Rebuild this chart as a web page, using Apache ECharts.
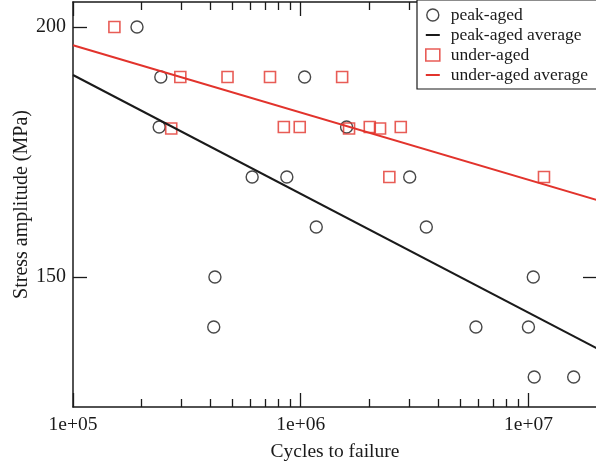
<!DOCTYPE html>
<html>
<head>
<meta charset="utf-8">
<title>Stress amplitude vs cycles to failure</title>
<script src="https://cdn.jsdelivr.net/npm/echarts@6/dist/echarts.min.js"></script>
<style>
    html, body { margin: 0; padding: 0; background: #fff; }
    #chart { width: 596px; height: 462px; }
</style>
</head>
<body>
<div id="chart"></div>
<script>
// cycles to failure / stress amplitude
var peakCycles = [1.91e5, 2.43e5, 2.39e5, 6.12e5, 8.69e5, 1.04e6, 1.59e6, 3.01e6, 1.17e6,
    3.56e6, 4.2e5, 4.15e5, 1.05e7, 5.88e6, 1.0e7, 1.06e7, 1.58e7];
var peakStress = [200, 190, 180, 170, 170, 190, 180, 170, 160,
    160, 150, 140, 150, 140, 140, 130, 130];

var underCycles = [1.52e5, 2.96e5, 4.77e5, 7.33e5, 1.52e6, 2.7e5, 8.43e5, 9.9e5, 1.63e6,
    2.01e6, 2.23e6, 2.75e6, 2.45e6, 1.17e7];
var underStress = [200, 190, 190, 190, 190, 179.7, 180, 180, 179.7,
    180, 179.7, 180, 170, 170];

// fitted averages, evaluated at the ends of the x range
var fitCycles = [1e5, 2e7];
var peakFit = [190.4, 135.7];
var underFit = [196.35, 165.4];

var majorTicks = [1e5, 1e6, 1e7];
var minorTicks = [2e5, 3e5, 4e5, 5e5, 6e5, 7e5, 8e5, 9e5,
    2e6, 3e6, 4e6, 5e6, 6e6, 7e6, 8e6, 9e6];
var yTicks = [150, 200];

var FONT = 'Liberation Serif';
var INK = '#1a1a1a';
var RED = '#e2332c';
var LINE_ICON = 'path://M0,0L14,0L14,2L0,2Z';

function pairs(xs, ys) {
    var out = [];
    for (var i = 0; i < xs.length; i++) {
        out.push([xs[i], ys[i]]);
    }
    return out;
}

function sciLabel(v) {
    var e = Math.round(Math.log(v) / Math.LN10);
    return '1e+' + (e < 10 ? '0' + e : e);
}

function xAxisDef(position, ticks, len, main) {
    return {
        type: 'log',
        logBase: 10,
        position: position,
        min: 1e5,
        max: 2e7,
        name: main ? 'Cycles to failure' : '',
        nameLocation: 'middle',
        nameGap: 35,
        nameTextStyle: { fontFamily: FONT, fontSize: 19.5, color: INK },
        axisLine: { show: main !== null, onZero: false, lineStyle: { color: INK, width: 1.5 } },
        axisTick: {
            show: true, inside: true, length: len, customValues: ticks,
            lineStyle: { color: INK, width: 1.3 }
        },
        axisLabel: {
            show: !!main, customValues: majorTicks, margin: 8,
            fontFamily: FONT, fontSize: 19.5, color: INK,
            formatter: sciLabel
        },
        splitLine: { show: false }
    };
}

function yAxisDef(position, main) {
    return {
        type: 'value',
        position: position,
        min: 124,
        max: 205,
        name: main ? 'Stress amplitude (MPa)' : '',
        nameLocation: 'middle',
        nameGap: 41,
        nameRotate: 90,
        nameMoveOverlap: false,
        nameTextStyle: { fontFamily: FONT, fontSize: 20, color: INK },
        axisLine: { show: true, onZero: false, lineStyle: { color: INK, width: 1.5 } },
        axisTick: {
            show: true, inside: true, length: 14, customValues: yTicks,
            lineStyle: { color: INK, width: 1.3 }
        },
        axisLabel: {
            show: main, customValues: yTicks, margin: 7,
            fontFamily: FONT, fontSize: 20, color: INK
        },
        splitLine: { show: false }
    };
}

var chart = echarts.init(document.getElementById('chart'), null, { renderer: 'canvas' });

var option = {
    animation: false,
    backgroundColor: '#fff',
    grid: {
        left: 73, top: 2, right: -1, bottom: 55,
        containLabel: false, outerBoundsMode: 'none'
    },
    xAxis: [
        xAxisDef('bottom', majorTicks, 14, true),
        xAxisDef('bottom', minorTicks, 8, null),
        xAxisDef('top', majorTicks, 14, false),
        xAxisDef('top', minorTicks, 8, null)
    ],
    yAxis: [
        yAxisDef('left', true),
        yAxisDef('right', false)
    ],
    legend: {
        orient: 'vertical',
        left: 417,
        top: 0,
        padding: [5, 60, 4, 8],
        itemGap: 0,
        itemWidth: 14,
        itemHeight: 12,
        borderColor: INK,
        borderWidth: 1.2,
        backgroundColor: '#fff',
        selectedMode: false,
        textStyle: {
            fontFamily: FONT, fontSize: 17.5, color: INK, lineHeight: 20,
            padding: [0, 0, 0, 6]
        },
        data: [
            { name: 'peak-aged', icon: 'circle',
              itemStyle: { color: 'transparent', borderColor: INK, borderWidth: 1.4 } },
            { name: 'peak-aged average', icon: LINE_ICON,
              itemStyle: { color: INK, borderWidth: 0 } },
            { name: 'under-aged', icon: 'rect',
              itemStyle: { color: 'transparent', borderColor: RED, borderWidth: 1.6 } },
            { name: 'under-aged average', icon: LINE_ICON,
              itemStyle: { color: RED, borderWidth: 0 } }
        ]
    },
    series: [
        {
            name: 'peak-aged',
            type: 'scatter',
            symbol: 'circle',
            symbolSize: 12,
            itemStyle: { color: 'transparent', borderColor: INK, borderWidth: 1.4 },
            emphasis: { disabled: true },
            data: pairs(peakCycles, peakStress)
        },
        {
            name: 'peak-aged average',
            type: 'line',
            symbol: 'none',
            lineStyle: { color: INK, width: 2 },
            itemStyle: { color: INK },
            emphasis: { disabled: true },
            data: pairs(fitCycles, peakFit)
        },
        {
            name: 'under-aged',
            type: 'scatter',
            symbol: 'rect',
            symbolSize: 11,
            itemStyle: { color: 'transparent', borderColor: RED, borderWidth: 1.6 },
            emphasis: { disabled: true },
            data: pairs(underCycles, underStress)
        },
        {
            name: 'under-aged average',
            type: 'line',
            symbol: 'none',
            lineStyle: { color: RED, width: 2 },
            itemStyle: { color: RED },
            emphasis: { disabled: true },
            data: pairs(fitCycles, underFit)
        }
    ]
};

chart.setOption(option);
</script>
</body>
</html>
